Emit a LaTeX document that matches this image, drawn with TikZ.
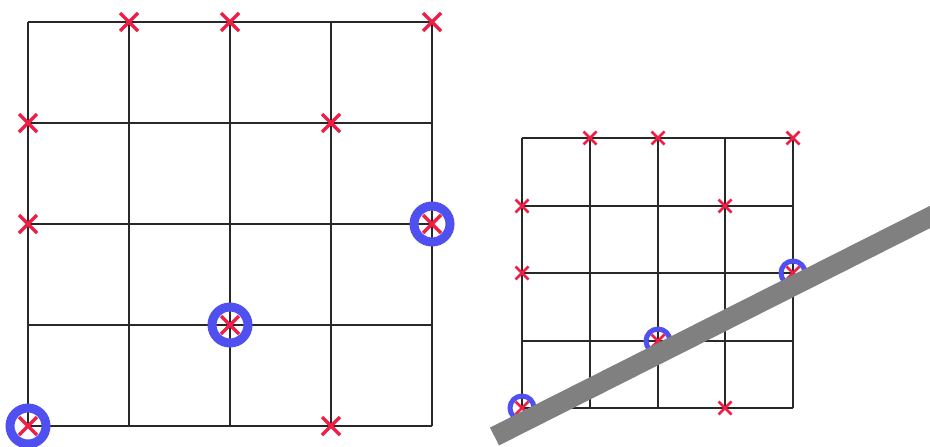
\documentclass[tikz,border=0pt]{standalone}
\definecolor{xred}{RGB}{240,30,70}
\definecolor{oblue}{RGB}{80,80,240}
\definecolor{gridc}{RGB}{40,40,40}
\definecolor{barc}{RGB}{128,128,128}
\tikzset{
  gridline/.style={draw=gridc},
  crossmark/.style={draw=xred},
  ringmark/.style={draw=oblue},
  barline/.style={draw=barc, line width=20pt, line cap=butt}
}
\begin{document}
\begin{tikzpicture}[x=1pt,y=-1pt]
\clip (0,0) rectangle (930,447);
\useasboundingbox (0,0) rectangle (930,447);
% ---------- left grid ----------
\foreach \v/\w in {28/22,129/123,230/224,331/325,432/426}{
  \draw[gridline, line width=2.2pt] (\v,22) -- (\v,426);
  \draw[gridline, line width=2.2pt] (28,\w) -- (432,\w);
}
% left rings
\foreach \a/\b in {432/224,230/325,28/426}{
  \draw[ringmark, line width=9pt] (\a,\b) circle[radius=18];
}
% left crosses
\foreach \a/\b in {129/22,230/22,432/22,28/123,331/123,28/224,432/224,230/325,28/426,331/426}{
  \draw[crossmark, line width=3.5pt] ([shift={(-9,-9)}]\a,\b) -- ([shift={(9,9)}]\a,\b);
  \draw[crossmark, line width=3.5pt] ([shift={(-9,9)}]\a,\b) -- ([shift={(9,-9)}]\a,\b);
}
% ---------- right grid ----------
\foreach \v/\w in {522/138,590/206,658/273,725/341,793/408}{
  \draw[gridline, line width=1.8pt] (\v,138) -- (\v,408);
  \draw[gridline, line width=1.8pt] (522,\w) -- (793,\w);
}
% right rings
\foreach \a/\b in {793/273,658/341,522/408}{
  \draw[ringmark, line width=5pt] (\a,\b) circle[radius=12];
}
% right crosses
\foreach \a/\b in {590/138,658/138,793/138,522/206,725/206,522/273,793/273,658/341,522/408,725/408}{
  \draw[crossmark, line width=2.8pt] ([shift={(-6.5,-6.5)}]\a,\b) -- ([shift={(6.5,6.5)}]\a,\b);
  \draw[crossmark, line width=2.8pt] ([shift={(-6.5,6.5)}]\a,\b) -- ([shift={(6.5,-6.5)}]\a,\b);
}
% bar
\coordinate (b1) at (494.5,436.5);
\coordinate (b2) at (1000,181.7);
\draw[barline] (b1) -- (b2);
\end{tikzpicture}
\end{document}
